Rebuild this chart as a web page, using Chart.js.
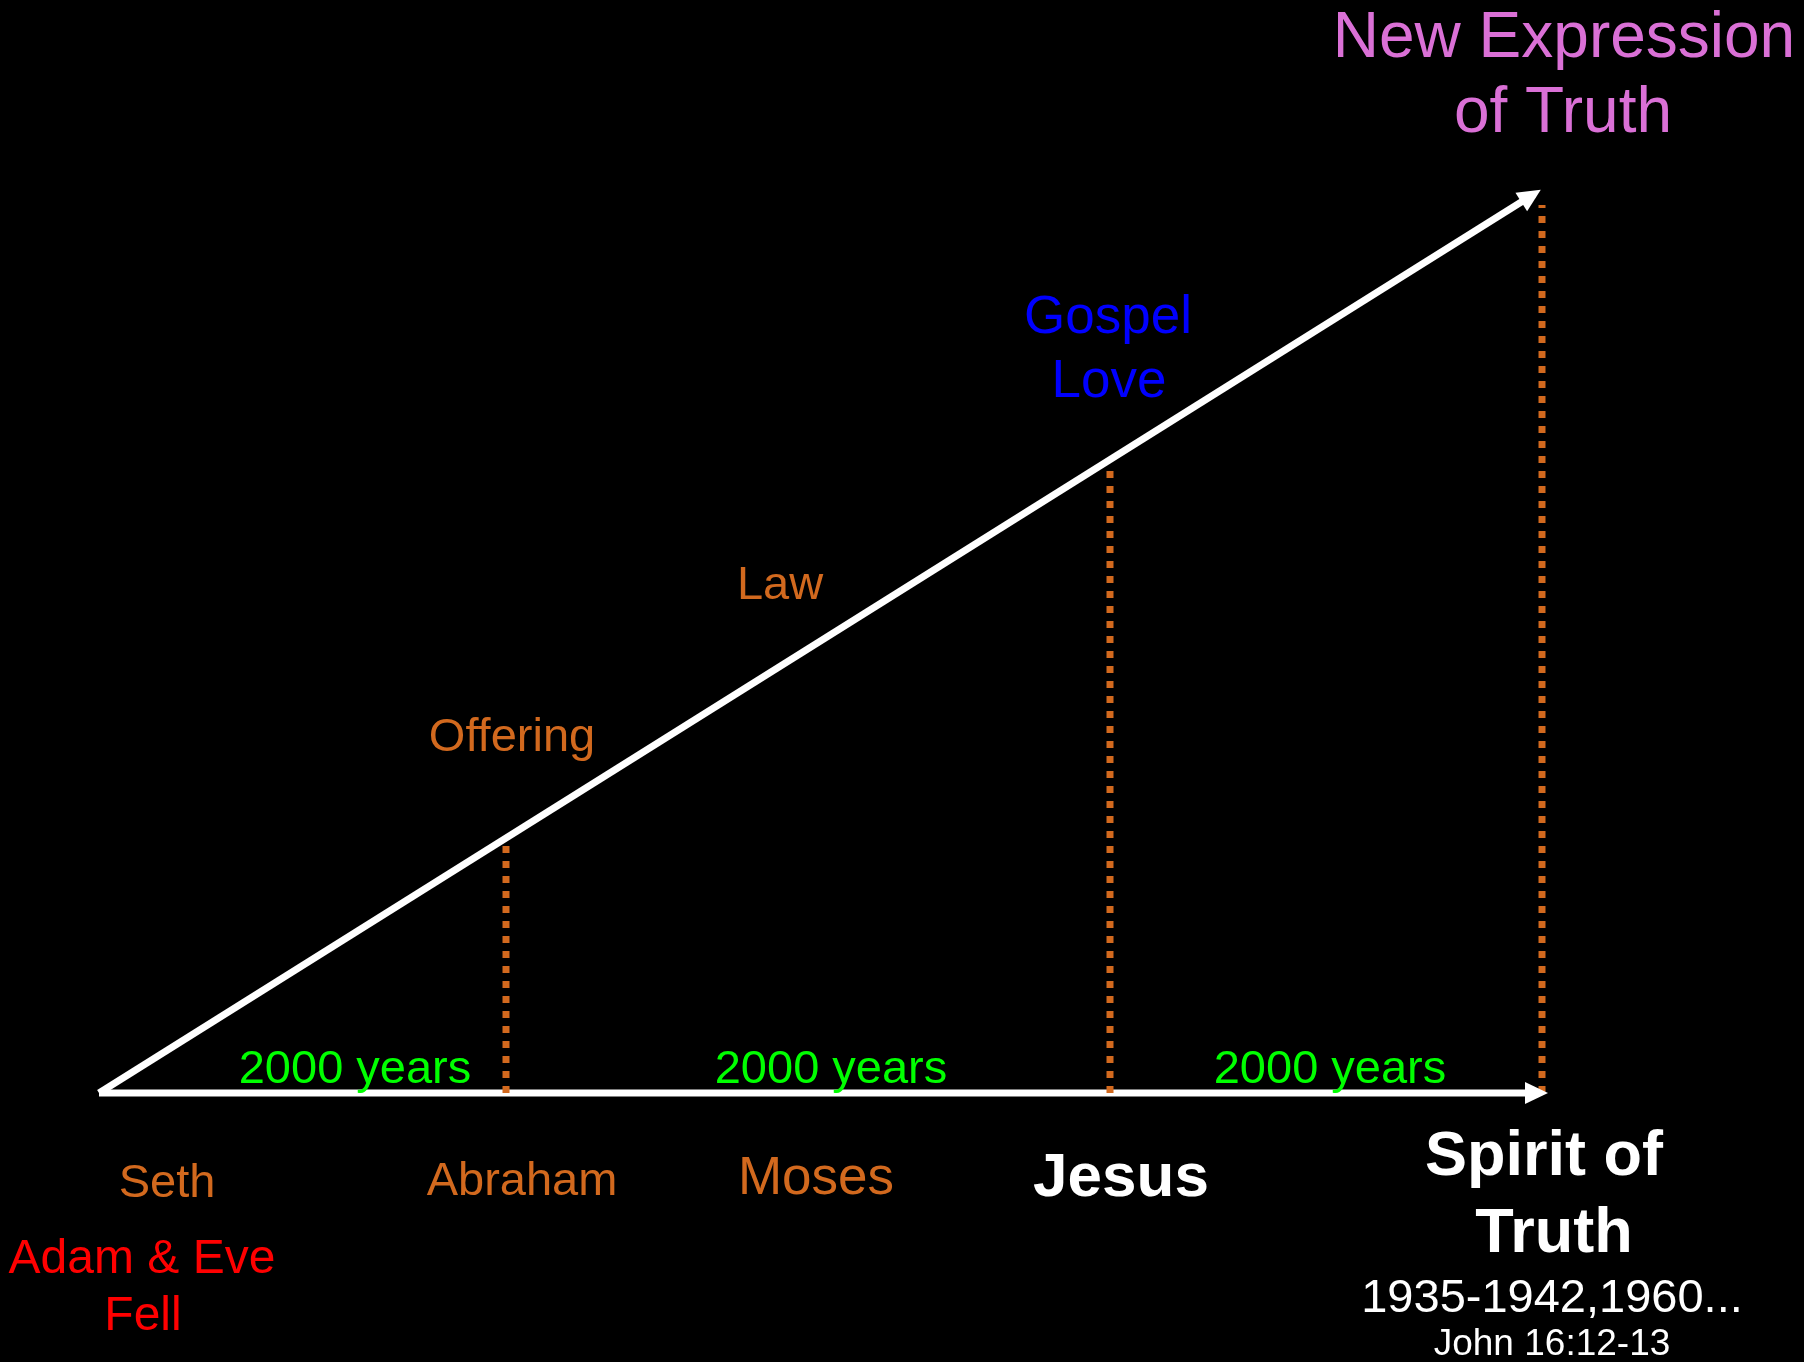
<!DOCTYPE html>
<html>
<head>
<meta charset="utf-8">
<script src="https://cdn.jsdelivr.net/npm/chart.js@4/dist/chart.umd.min.js"></script>
<style>
  html, body { margin: 0; padding: 0; background: #000; }
  #wrap { width: 1804px; height: 1362px; position: relative; }
</style>
</head>
<body>
<div id="wrap"><canvas id="truth-chart"></canvas></div>
<script>
// timeline milestones (x along the bottom line, height where the dotted line meets the ascent)
const eras       = ['Abraham', 'Jesus', 'Spirit of Truth'];
const eraX       = [407, 1011, 1443];
const eraLevel   = [253, 627, 888];
const timelineX  = [0, 1441];
const timelineY  = [0, 0];
const ascentX    = [0, 1435];
const ascentY    = [0, 899];

const ORANGE = '#D2691E';
const FONT = '"Liberation Sans", Arial, sans-serif';

// text placed on the diagram (data units, baseline)
const notes = [
    { t: 'New Expression', x: 1465, y: 1036, size: 64, color: '#DA70D6' },
    { t: 'of Truth',       x: 1464, y: 961,  size: 64, color: '#DA70D6' },
    { t: 'Gospel',         x: 1009, y: 760,  size: 53, color: '#0000FF' },
    { t: 'Love',           x: 1010, y: 696,  size: 53, color: '#0000FF' },
    { t: 'Law',            x: 681,  y: 494,  size: 47, color: ORANGE },
    { t: 'Offering',       x: 413,  y: 342,  size: 47, color: ORANGE },
    { t: '2000 years',     x: 256,  y: 10,   size: 47, color: '#00FF00' },
    { t: '2000 years',     x: 732,  y: 10,   size: 47, color: '#00FF00' },
    { t: '2000 years',     x: 1231, y: 10,   size: 47, color: '#00FF00' },
    { t: 'Seth',           x: 68,   y: -104, size: 47, color: ORANGE },
    { t: 'Abraham',        x: 423,  y: -102, size: 47, color: ORANGE },
    { t: 'Moses',          x: 717,  y: -101, size: 53, color: ORANGE },
    { t: 'Jesus',          x: 1022, y: -103, size: 62, color: '#FFFFFF', bold: true },
    { t: 'Adam & Eve',     x: 43,   y: -180, size: 48, color: '#FF0000' },
    { t: 'Fell',           x: 44,   y: -237, size: 48, color: '#FF0000' },
    { t: 'Spirit of',      x: 1445, y: -82,  size: 63, color: '#FFFFFF', bold: true },
    { t: 'Truth',          x: 1455, y: -159, size: 63, color: '#FFFFFF', bold: true },
    { t: '1935-1942,1960...', x: 1453, y: -219, size: 47, color: '#FFFFFF' },
    { t: 'John 16:12-13',  x: 1453, y: -262, size: 37, color: '#FFFFFF' },
];

const pts = (xs, ys) => xs.map((x, i) => ({ x: x, y: ys[i] }));

const datasets = [
    {
        label: 'timeline',
        data: pts(timelineX, timelineY),
        borderColor: '#FFFFFF', borderWidth: 7,
        showLine: true, pointRadius: 0, arrow: true, order: 3,
    },
    ...eras.map((name, i) => ({
        label: name,
        data: [{ x: eraX[i], y: 0 }, { x: eraX[i], y: eraLevel[i] }],
        borderColor: ORANGE, borderWidth: 7, borderDash: [7, 8],
        showLine: true, pointRadius: 0, order: 2,
    })),
    {
        label: 'ascent',
        data: pts(ascentX, ascentY),
        borderColor: '#FFFFFF', borderWidth: 7,
        showLine: true, pointRadius: 0, arrow: true, order: 1,
    },
];

const arrowHeads = {
    id: 'arrowHeads',
    afterDatasetsDraw(chart) {
        const ctx = chart.ctx;
        chart.data.datasets.forEach((ds, i) => {
            if (!ds.arrow) return;
            const pts = chart.getDatasetMeta(i).data;
            const a = pts[pts.length - 2], b = pts[pts.length - 1];
            const ang = Math.atan2(b.y - a.y, b.x - a.x);
            const dx = Math.cos(ang), dy = Math.sin(ang);
            const tx = b.x + dx * 8, ty = b.y + dy * 8;
            const bx = tx - dx * 23, by = ty - dy * 23;
            ctx.save();
            ctx.fillStyle = '#FFFFFF';
            ctx.beginPath();
            ctx.moveTo(tx, ty);
            ctx.lineTo(bx - dy * 11, by + dx * 11);
            ctx.lineTo(bx + dy * 11, by - dx * 11);
            ctx.closePath();
            ctx.fill();
            ctx.restore();
        });
    }
};

const diagramText = {
    id: 'diagramText',
    afterDraw(chart) {
        const ctx = chart.ctx;
        const xs = chart.scales.x, ys = chart.scales.y;
        ctx.save();
        ctx.textAlign = 'center';
        ctx.textBaseline = 'alphabetic';
        notes.forEach(n => {
            ctx.font = (n.bold ? 'bold ' : '') + n.size + 'px ' + FONT;
            ctx.fillStyle = n.color;
            ctx.fillText(n.t, xs.getPixelForValue(n.x), ys.getPixelForValue(n.y));
        });
        ctx.restore();
    }
};

new Chart(document.getElementById('truth-chart').getContext('2d'), {
    type: 'scatter',
    data: { datasets: datasets },
    options: {
        responsive: true,
        maintainAspectRatio: false,
        animation: false,
        layout: { padding: 0 },
        plugins: {
            legend: { display: false },
            tooltip: { enabled: false },
        },
        scales: {
            x: { type: 'linear', min: -99, max: 1705, display: false },
            y: { type: 'linear', min: -269, max: 1093, display: false },
        },
    },
    plugins: [arrowHeads, diagramText],
});
</script>
</body>
</html>
